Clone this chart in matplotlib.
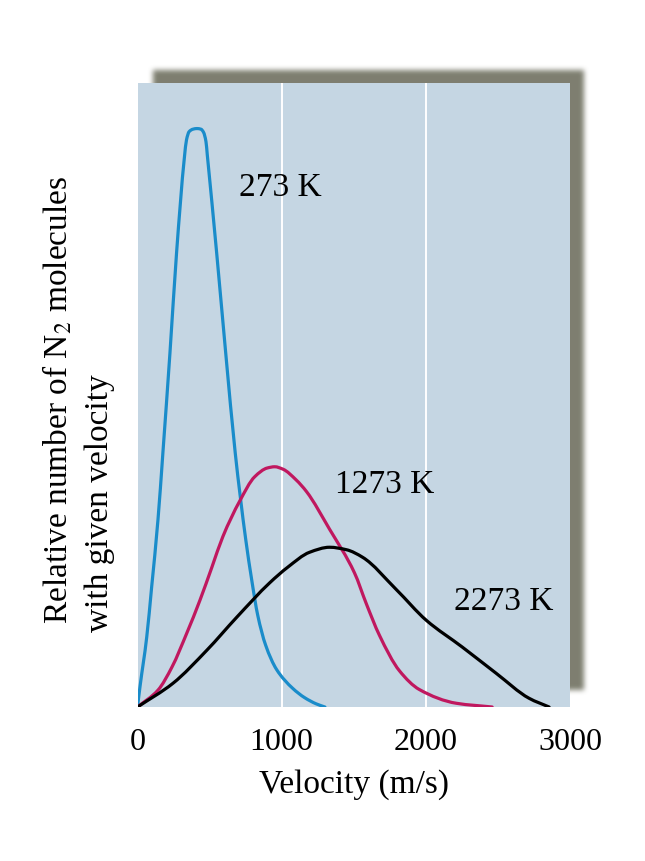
import matplotlib
matplotlib.use("Agg")
import matplotlib.pyplot as plt
import numpy as np
from matplotlib.path import Path
from matplotlib.patches import PathPatch

plt.rcParams["font.family"] = ["Liberation Serif", "DejaVu Serif"]
plt.rcParams["mathtext.fontset"] = "stix"

# speed distribution of N2 (velocity m/s, relative number 0-100)
v_273 = [0, 17, 64, 98, 142, 176, 225, 271, 325, 340, 358, 385, 412, 440, 458, 475, 484,
         549, 612, 678, 713, 751, 792, 834, 889, 965, 1076, 1159, 1240, 1300]
n_273 = [0, 3.2, 11.2, 19.2, 30.0, 40.7, 56.7, 72.8, 88.0, 90.9, 92.2, 92.6, 92.7, 92.6, 92.1, 90.6, 88.5,
         72.8, 56.7, 40.7, 33.7, 26.8, 20.4, 14.7, 9.9, 6.0, 3.0, 1.5, 0.5, 0]

v_1273 = [0, 142, 239, 343, 433, 516, 592, 709, 813, 900, 952, 1010, 1100, 1173, 1332, 1505, 1588, 1678, 1817, 1955, 2211, 2460]
n_1273 = [0, 2.7, 6.4, 11.9, 17.1, 22.4, 27.3, 33.0, 36.9, 38.3, 38.5, 38.1, 36.4, 34.5, 28.5, 21.5, 16.5, 11.5, 5.8, 2.8, 0.6, 0]

v_2273 = [0, 246, 481, 689, 917, 1042, 1194, 1332, 1450, 1561, 1796, 2003, 2253, 2488, 2716, 2855]
n_2273 = [0, 3.8, 9.1, 14.4, 19.9, 22.4, 24.8, 25.6, 25.2, 24.0, 18.8, 13.9, 9.6, 5.4, 1.4, 0]

temps = ["273 K", "1273 K", "2273 K"]
label_pos = [(993, 83.2), (1713, 35.6), (2543, 16.8)]
colors = ["#1a8cca", "#c0185f", "#000000"]
x_ticks = [0, 1000, 2000, 3000]


def smooth_path(xs, ys):
    # monotone cubic (fritsch-carlson) through the read points, as bezier segments
    x = np.asarray(xs, float)
    y = np.asarray(ys, float)
    h = np.diff(x)
    d = np.diff(y) / h
    m = np.zeros_like(x)
    m[0], m[-1] = d[0], d[-1]
    for k in range(1, len(x) - 1):
        if d[k - 1] * d[k] <= 0:
            m[k] = 0
        else:
            w1 = 2 * h[k] + h[k - 1]
            w2 = h[k] + 2 * h[k - 1]
            m[k] = (w1 + w2) / (w1 / d[k - 1] + w2 / d[k])
    verts = [(x[0], y[0])]
    codes = [Path.MOVETO]
    for k in range(len(h)):
        verts += [(x[k] + h[k] / 3, y[k] + m[k] * h[k] / 3),
                  (x[k + 1] - h[k] / 3, y[k + 1] - m[k + 1] * h[k] / 3),
                  (x[k + 1], y[k + 1])]
        codes += [Path.CURVE4] * 3
    return Path(verts, codes)


W, H = 645, 861
fig = plt.figure(figsize=(W / 100, H / 100), dpi=100)
fig.patch.set_facecolor("white")

# axes box in pixels
ax_l, ax_r, ax_t, ax_b = 137.5, 570, 83, 707

# blurred drop shadow behind the panel
bg = fig.add_axes([0, 0, 1, 1], zorder=-1)
bg.axis("off")
mask = np.zeros((H, W))
mask[70:690, 153:584] = 1.0
k = np.ones(5) / 5
for _ in range(3):
    mask = np.apply_along_axis(lambda r: np.convolve(r, k, mode="same"), 0, mask)
    mask = np.apply_along_axis(lambda r: np.convolve(r, k, mode="same"), 1, mask)
rgba = np.zeros((H, W, 4))
rgba[..., :3] = np.array([0x72, 0x73, 0x63]) / 255
rgba[..., 3] = mask * 0.92
bg.imshow(rgba, extent=[0, W, H, 0], interpolation="bilinear")
bg.set_xlim(0, W)
bg.set_ylim(H, 0)

ax = fig.add_axes([ax_l / W, 1 - ax_b / H, (ax_r - ax_l) / W, (ax_b - ax_t) / H])
ax.set_facecolor("#c5d6e3")

for xv in [1000, 2000]:
    ax.axvline(xv, color="white", lw=1.4, zorder=1)

for vs, ns, c in zip([v_273, v_1273, v_2273], [n_273, n_1273, n_2273], colors):
    ax.add_patch(PathPatch(smooth_path(vs, ns), facecolor="none", edgecolor=c,
                           lw=2.3, capstyle="round", joinstyle="round", zorder=3))

for t, (x, y) in zip(temps, label_pos):
    ax.text(x, y, t, fontsize=24, ha="center", va="center", zorder=4)

ax.set_xlim(0, 3000)
ax.set_ylim(0, 100)
ax.set_xticks(x_ticks)
ax.set_xticklabels([str(t) for t in x_ticks])
ax.set_yticks([])
ax.tick_params(axis="x", length=0, pad=15, labelsize=23)
for s in ax.spines.values():
    s.set_visible(False)
ax.set_xlabel("Velocity (m/s)", fontsize=24, labelpad=9)

fig.text(58 / W, 1 - 624 / H, "Relative number of N$_2$ molecules", rotation=90,
         fontsize=24, ha="center", va="bottom")
fig.text(100 / W, 1 - 632 / H, "with given velocity", rotation=90,
         fontsize=24, ha="center", va="bottom")

fig.savefig("out.png", dpi=100)
